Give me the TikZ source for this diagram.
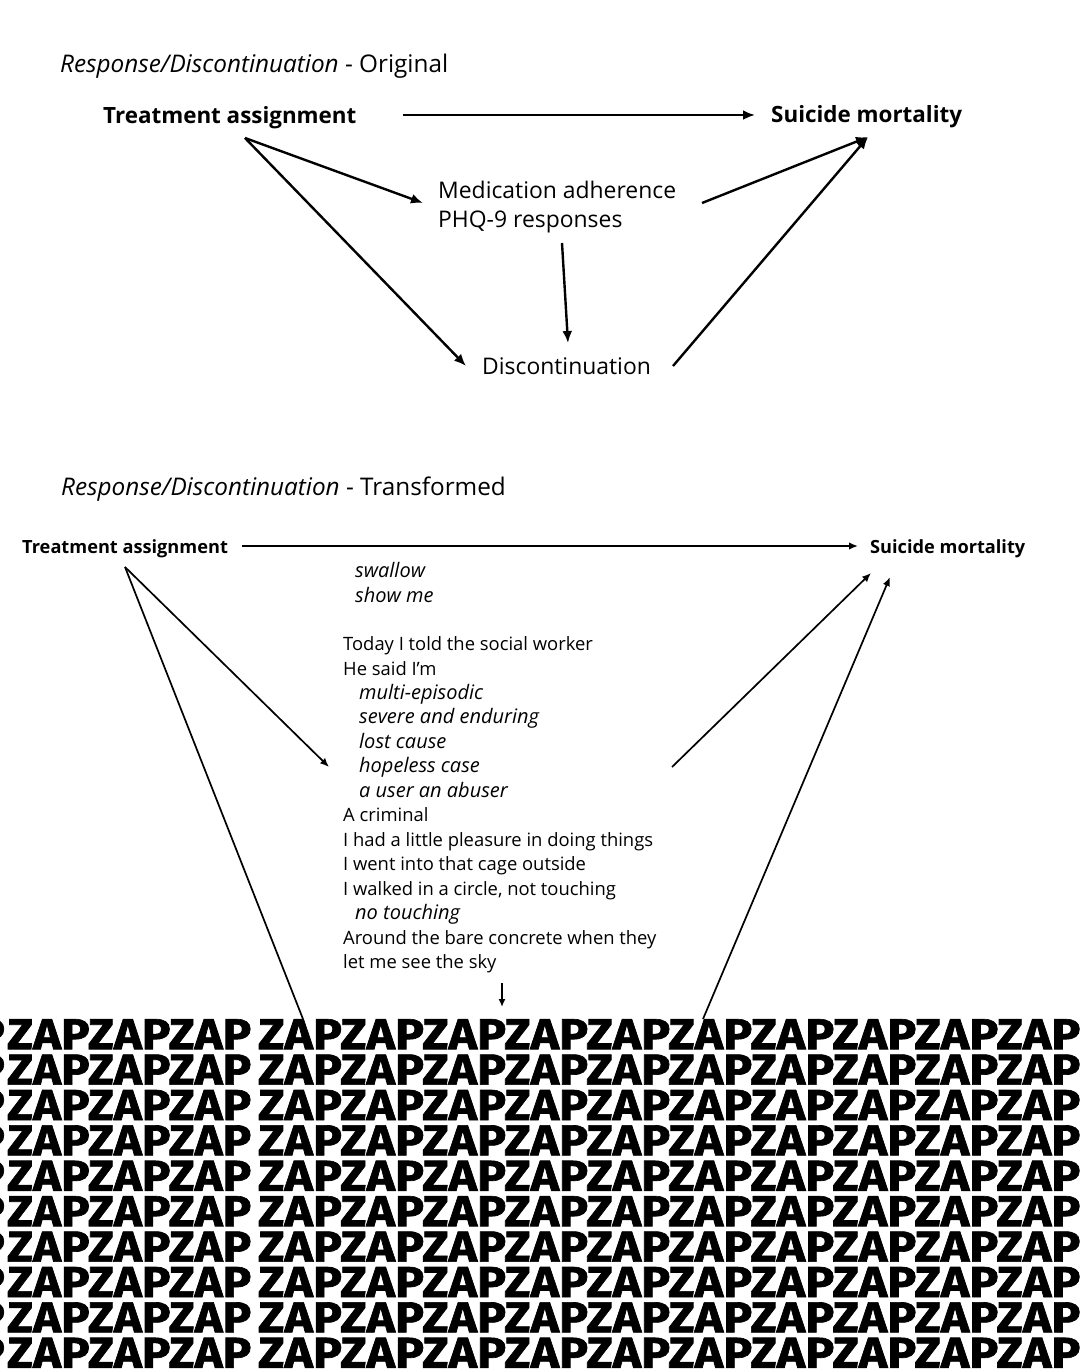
\documentclass[tikz,border=0pt]{standalone}
\usepackage{fontspec}
\setmainfont{Open Sans}
\newfontfamily\zapfont[FakeBold=1.5]{Fira Sans}
\usetikzlibrary{arrows.meta}
\begin{document}
\begin{tikzpicture}[x=1pt,y=-1pt,
  txt/.style={inner sep=0pt, anchor=base west},
  ttl/.style={txt, font=\fontsize{24.3}{28}\selectfont},
  topbold/.style={txt, font=\fontsize{22.4}{26}\selectfont\bfseries},
  toptxt/.style={txt, font=\fontsize{22.9}{27}\selectfont},
  botbold/.style={txt, font=\fontsize{18.2}{22}\selectfont\bfseries},
  poem/.style={txt, font=\fontsize{18.4}{22}\selectfont},
  poemit/.style={txt, font=\fontsize{20}{22}\selectfont\itshape},
  arrtop/.style={line width=2.4pt, -{Latex[length=12pt,width=10pt]}},
  arrbot/.style={line width=1.7pt, -{Latex[length=9pt,width=7.5pt]}},
  linebot/.style={line width=1.7pt},
  zaprow/.style={inner sep=0pt, anchor=north west}
]
\useasboundingbox (0,0) rectangle (1080,1371);
\fill[white] (0,0) rectangle (1080,1371);

% ---------- Top diagram ----------
\node[ttl] (title1) at (60,72) {\itshape Response/Discontinuation\upshape{} - Original};
\node[topbold] (ta) at (103,123) {Treatment assignment};
\node[topbold] (sm) at (771,122) {Suicide mortality};
\node[toptxt] (med1) at (438,198) {Medication adherence};
\node[toptxt] (med2) at (438,227) {PHQ-9 responses};
\node[toptxt] (disc) at (482,374) {Discontinuation};

\coordinate (ta-e) at (403,115);
\coordinate (sm-w) at (755,115);
\coordinate (ta-s) at (245,138);
\coordinate (med-w) at (423,203);
\coordinate (disc-w) at (466,366);
\coordinate (med-s) at (562,243);
\coordinate (disc-n) at (568,343);
\coordinate (med-e) at (702,203);
\coordinate (disc-e) at (673,366);
\coordinate (sm-s) at (868,137);

\draw[arrtop] (ta-e) -- (sm-w);
\draw[arrtop] (ta-s) -- (med-w);
\draw[arrtop] (ta-s) -- (disc-w);
\draw[arrtop] (med-s) -- (disc-n);
\draw[arrtop] (med-e) -- (sm-s);
\draw[arrtop] (disc-e) -- (sm-s);

% ---------- Bottom diagram ----------
\node[ttl] (title2) at (61,495) {\itshape Response/Discontinuation\upshape{} - Transformed};
\node[botbold] (ta2) at (22,553) {Treatment assignment};
\node[botbold] (sm2) at (870,553) {Suicide mortality};

\node[poemit] (p1) at (355,577) {swallow};
\node[poemit] (p2) at (355,602) {show me};
\node[poem] (p3) at (343,650) {Today I told the social worker};
\node[poem] (p4) at (343,675) {He said I’m};
\node[poemit] (p5) at (359,699) {multi-episodic};
\node[poemit] (p6) at (359,723) {severe and enduring};
\node[poemit] (p7) at (359,748) {lost cause};
\node[poemit] (p8) at (359,772) {hopeless case};
\node[poemit] (p9) at (359,797) {a user an abuser};
\node[poem] (p10) at (343,821) {A criminal};
\node[poem] (p11) at (343,846) {I had a little pleasure in doing things};
\node[poem] (p12) at (343,870) {I went into that cage outside};
\node[poem] (p13) at (343,895) {I walked in a circle, not touching};
\node[poemit] (p14) at (355,919) {no touching};
\node[poem] (p15) at (343,944) {Around the bare concrete when they};
\node[poem] (p16) at (343,968) {let me see the sky};

\coordinate (ta2-e) at (242,546);
\coordinate (sm2-w) at (858,546);
\coordinate (ta2-s) at (125,567);
\coordinate (poem-w) at (329,767);
\coordinate (zap-l) at (303,1019);
\coordinate (poem-e) at (672,767);
\coordinate (sm2-s1) at (871,573);
\coordinate (zap-r) at (703,1019);
\coordinate (sm2-s2) at (890,577);
\coordinate (poem-s) at (502,983);
\coordinate (zap-n) at (502,1007);

\draw[arrbot] (ta2-e) -- (sm2-w);
\draw[arrbot] (ta2-s) -- (poem-w);
\draw[linebot] (ta2-s) -- (zap-l);
\draw[arrbot] (poem-e) -- (sm2-s1);
\draw[arrbot] (zap-r) -- (sm2-s2);
\draw[line width=1.6pt, -{Latex[length=8pt,width=7pt]}] (poem-s) -- (zap-n);

% ---------- ZAP block ----------
\begin{scope}
\clip (0,0) rectangle (1080,1371);
\foreach \i in {0,...,9} {
  \pgfmathsetmacro{\yy}{1019+35.4*\i}
  \node[zaprow, anchor=north east] (zp\i) at (5,\yy) {\resizebox{27pt}{30pt}{\zapfont\bfseries P}};
  \node[zaprow] (za\i) at (7,\yy) {\resizebox{244pt}{30pt}{\zapfont\bfseries ZAPZAPZAP}};
  \node[zaprow] (zb\i) at (258,\yy) {\resizebox{822pt}{30pt}{\zapfont\bfseries ZAPZAPZAPZAPZAPZAPZAPZAPZAPZAP}};
}
\end{scope}
\end{tikzpicture}
\end{document}
